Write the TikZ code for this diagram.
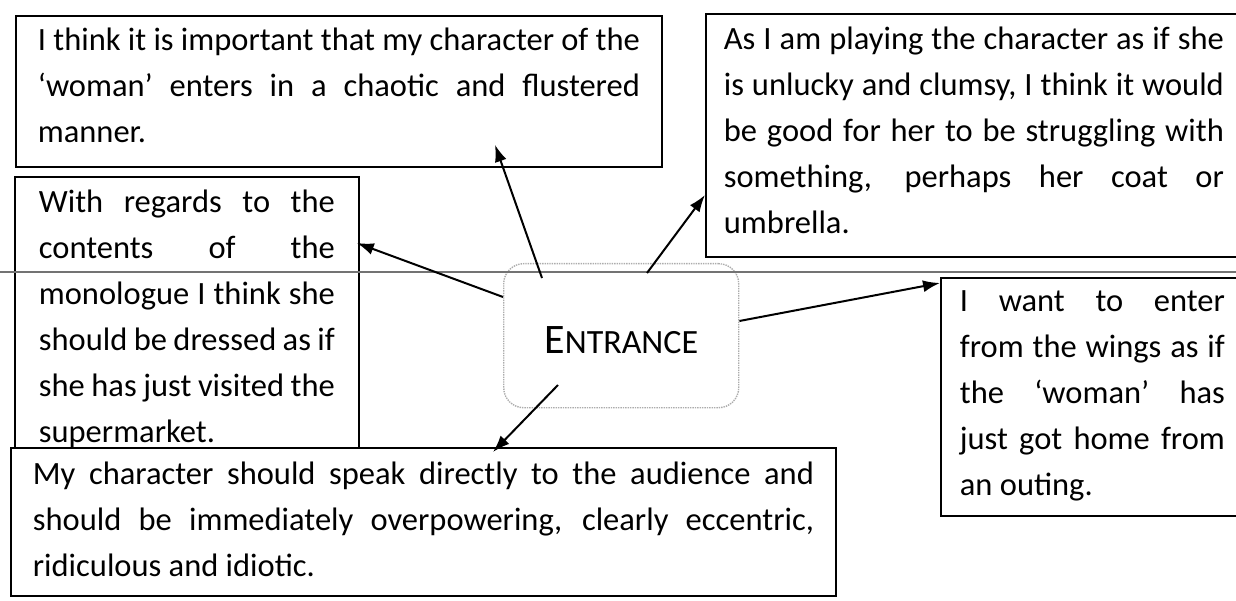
\documentclass[tikz,border=0pt]{standalone}
\usepackage{fontspec}
\setmainfont{Carlito}
\usetikzlibrary{arrows.meta,calc}
\newcommand{\jl}[2]{{\spaceskip=0pt \xspaceskip=0pt \makebox[#1][s]{#2}}}
\begin{document}
\begin{tikzpicture}[x=1pt,y=-1pt,
  note/.style={draw, line width=1.8pt, fill=white, anchor=north west, inner ysep=0pt,
    align=flush left, font=\fontsize{32.5}{46}\selectfont,
    execute at begin node={\setlength{\parindent}{0pt}\spaceskip=0pt \xspaceskip=0pt }},
  conn/.style={line width=2pt, -{Latex[length=17pt,width=12pt]}},
  hub/.style={draw=gray!65, densely dotted, line width=1.4pt, rounded corners=20pt,
    minimum width=235pt, inner sep=0pt, anchor=north west},
  rule/.style={line width=1.3pt, black!55}
]
\useasboundingbox (0,0) rectangle (1236,601);
\clip (0,0) rectangle (1236,601);

% top-left box
\node[note, inner xsep=22pt, text width=602pt, text height=35pt, text depth=116pt] (tl) at (15,15)
 {\jl{602pt}{I think it is important that my character of the}\\
  \jl{602pt}{‘woman’ enters in a chaotic and flustered}\\
  manner.};

% top-right box
\node[note, inner xsep=18pt, text width=500pt, text height=36pt, text depth=207pt] (tr) at (705,13)
 {\jl{500pt}{As I am playing the character as if she}\\
  \jl{500pt}{is unlucky and clumsy, I think it would}\\
  \jl{500pt}{be good for her to be struggling with}\\
  \jl{500pt}{something, perhaps her coat or}\\
  umbrella.};

% left box
\node[note, inner xsep=24pt, text width=296pt, text height=36pt, text depth=235pt] (lb) at (14,176)
 {\jl{296pt}{With regards to the}\\
  \jl{296pt}{contents of the}\\
  \jl{296pt}{monologue I think she}\\
  \jl{296pt}{should be dressed as if}\\
  \jl{296pt}{she has just visited the}\\
  supermarket.};

% right box
\node[note, inner xsep=19pt, text width=265pt, text height=34pt, text depth=204pt] (rb) at (940,277)
 {\jl{265pt}{I want to enter}\\
  \jl{265pt}{from the wings as if}\\
  \jl{265pt}{the ‘woman’ has}\\
  \jl{265pt}{just got home from}\\
  an outing.};

% bottom box
\node[note, inner xsep=22pt, text width=781pt, text height=37pt, text depth=111pt] (bb) at (10,447)
 {\jl{781pt}{My character should speak directly to the audience and}\\
  \jl{781pt}{should be immediately overpowering, clearly eccentric,}\\
  ridiculous and idiotic.};

% central node
\node[hub, text height=90pt, text depth=54pt] (c) at (503,263)
 {{\fontsize{42}{42}\selectfont E}{\fontsize{34}{34}\selectfont NTRANCE}};

% horizontal rule
\coordinate (hl) at (0,272);
\coordinate (hr) at (1236,272);
\draw[rule] (hl) -- (hr);

% connectors
\coordinate (s1) at ($(c.north west)+(39,15)$);
\coordinate (s2) at ($(c.north west)+(144,10)$);
\coordinate (s3) at ($(c.north west)+(0,34)$);
\coordinate (s4) at ($(c.north east)+(0,58)$);
\coordinate (s5) at ($(c.north west)+(55,122)$);
\coordinate (e1) at ($(tl.south west)+(480,-23)$);
\coordinate (e2) at ($(tr.north west)+(0,182)$);
\coordinate (e3) at ($(lb.north east)+(-3,67)$);
\coordinate (e4) at ($(rb.north west)+(0,6)$);
\coordinate (e5) at ($(bb.north west)+(483,5)$);
\draw[conn] (s1) -- (e1);
\draw[conn] (s2) -- (e2);
\draw[conn] (s3) -- (e3);
\draw[conn] (s4) -- (e4);
\draw[conn] (s5) -- (e5);
\end{tikzpicture}
\end{document}
